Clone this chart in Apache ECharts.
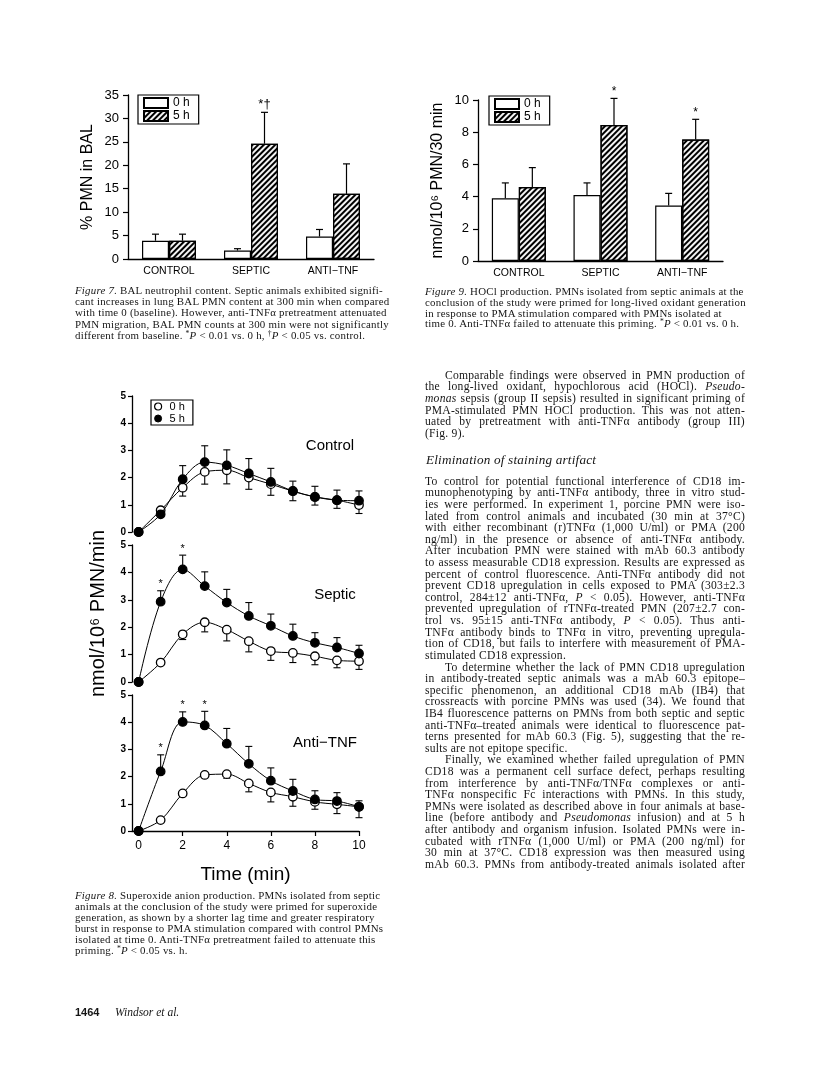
<!DOCTYPE html>
<html><head><meta charset="utf-8">
<script src="https://cdn.jsdelivr.net/npm/echarts@6/dist/echarts.min.js"></script>
<style>
html,body{margin:0;padding:0;background:#fff;}
#page{position:relative;width:816px;height:1078px;overflow:hidden;background:#fff;}
#chart{position:absolute;left:0;top:0;width:816px;height:1078px;}
#text{position:absolute;left:0;top:0;width:816px;height:1078px;pointer-events:none;}
.ln{position:absolute;white-space:nowrap;font-family:"Liberation Serif","Times New Roman",serif;color:#151515;}
.ln sup{font-size:70%;line-height:0;vertical-align:0.35em;}
</style></head><body>
<div id="page"><div id="chart"></div><div id="text"></div></div>
<script>
// ---------- data ----------
const categories = ['CONTROL', 'SEPTIC', 'ANTI\u2212TNF'];
// Figure 7: % PMN in BAL
const bal0 = [3.9, 1.8, 4.8];
const bal0Err = [1.4, 0.4, 1.5];
const bal5 = [3.9, 24.6, 13.9];
const bal5Err = [1.4, 6.7, 6.4];
const bal5Stars = [1];
// Figure 9: HOCl production
const hocl0 = [3.9, 4.1, 3.45];
const hocl0Err = [0.95, 0.75, 0.75];
const hocl5 = [4.6, 8.45, 7.55];
const hocl5Err = [1.2, 1.65, 1.25];
const hocl5Stars = [1, 2];
// Figure 8: superoxide, time (min)
const times = [0, 1, 2, 3, 4, 5, 6, 7, 8, 9, 10];
const timeTicks = [0, 2, 4, 6, 8, 10];
const ctrl0 = [0, 0.80, 1.63, 2.21, 2.27, 2.00, 1.76, 1.50, 1.29, 1.17, 0.99];
const ctrl0Err = [0, 0, 0.31, 0.45, 0.50, 0.43, 0.41, 0.35, 0.30, 0.30, 0.31];
const ctrl5 = [0, 0.65, 1.94, 2.57, 2.45, 2.15, 1.84, 1.51, 1.29, 1.17, 1.15];
const ctrl5Err = [0, 0, 0.50, 0.60, 0.57, 0.55, 0.50, 0.36, 0.39, 0.37, 0.36];
const sep0 = [0, 0.71, 1.74, 2.18, 1.91, 1.49, 1.13, 1.06, 0.94, 0.79, 0.76];
const sep0Err = [0, 0.05, 0.19, 0.35, 0.41, 0.39, 0.34, 0.35, 0.31, 0.27, 0.30];
const sep5 = [0, 2.93, 4.11, 3.50, 2.90, 2.41, 2.05, 1.68, 1.43, 1.26, 1.04];
const sep5Err = [0, 0.40, 0.52, 0.52, 0.48, 0.49, 0.43, 0.43, 0.37, 0.36, 0.30];
const sep5Stars = [1, 2];
const anti0 = [0, 0.40, 1.38, 2.06, 2.09, 1.75, 1.42, 1.26, 1.07, 0.98, 0.89];
const anti0Err = [0, 0, 0, 0, 0.15, 0.31, 0.35, 0.35, 0.27, 0.34, 0.40];
const anti5 = [0, 2.19, 4.01, 3.88, 3.21, 2.47, 1.85, 1.47, 1.16, 1.10, 0.89];
const anti5Err = [0, 0.61, 0.37, 0.52, 0.56, 0.64, 0.47, 0.43, 0.32, 0.31, 0.22];
const anti5Stars = [1, 2, 3];

// ---------- chart ----------
const K = '#000';
const SANS = '"Liberation Sans", Arial, Helvetica, sans-serif';
const hatch = {symbol: 'rect', symbolSize: 1, dashArrayX: [1, 0], dashArrayY: [1.6, 1.2], rotation: -Math.PI / 4, color: '#000'};

function catX(gi) {
  return {type: 'category', gridIndex: gi, data: categories, axisTick: {show: false},
    axisLine: {lineStyle: {color: K, width: 1.3}},
    axisLabel: {color: K, fontFamily: SANS, fontSize: 10.5, margin: 7}};
}
function valY(gi, max, interval, extra) {
  return Object.assign({type: 'value', gridIndex: gi, min: 0, max: max, interval: interval,
    splitLine: {show: false},
    axisLine: {show: true, onZero: false, lineStyle: {color: K, width: 1.3}},
    axisTick: {show: true, length: 5, lineStyle: {color: K, width: 1.2}},
    axisLabel: {color: K, fontFamily: SANS, fontSize: 13, margin: 9}}, extra || {});
}
function f8Y(gi, extra) {
  return valY(gi, 5, 1, Object.assign({
    axisTick: {show: true, length: 4, lineStyle: {color: K, width: 1.2}},
    axisLabel: {color: K, fontFamily: SANS, fontSize: 10, fontWeight: 'bold', margin: 6}}, extra || {}));
}
function bars(name, gi, vals, filled) {
  return {type: 'bar', name: name, xAxisIndex: gi, yAxisIndex: gi, data: vals, barWidth: 27, barGap: '0%',
    silent: true, z: 2,
    itemStyle: filled ? {color: '#f4f4f4', borderColor: K, borderWidth: 1.2, decal: hatch}
                      : {color: '#fff', borderColor: K, borderWidth: 1.2}};
}
function barErr(gi, vals, errs, off) {
  return {type: 'custom', xAxisIndex: gi, yAxisIndex: gi, z: 5, silent: true,
    data: vals.map((v, i) => [i, v, errs[i]]),
    renderItem: (params, api) => {
      const i = api.value(0), v = api.value(1), e = api.value(2);
      const p0 = api.coord([i, v]), p1 = api.coord([i, v + e]);
      const x = p0[0] + off;
      return {type: 'group', children: [
        {type: 'line', shape: {x1: x, y1: p0[1], x2: x, y2: p1[1]}, style: {stroke: K, lineWidth: 1.2}},
        {type: 'line', shape: {x1: x - 3.5, y1: p1[1], x2: x + 3.5, y2: p1[1]}, style: {stroke: K, lineWidth: 1.2}}
      ]};
    }};
}
function stars(xi, yi, pts, txt, off, fs) {
  return {type: 'custom', xAxisIndex: xi, yAxisIndex: yi, z: 6, silent: true,
    data: pts,
    renderItem: (params, api) => {
      const p = api.coord([api.value(0), api.value(1)]);
      return {type: 'text', style: {text: txt, x: p[0] + off, y: p[1] - 1, align: 'center', verticalAlign: 'bottom',
        fontFamily: SANS, fontSize: fs, fill: K}};
    }};
}
function line(name, gi, vals, filled) {
  return {type: 'line', name: name, xAxisIndex: gi, yAxisIndex: gi, data: times.map((t, i) => [t, vals[i]]),
    smooth: 0.35, symbol: 'circle', symbolSize: 8.5, silent: true, z: filled ? 4 : 3,
    lineStyle: {color: K, width: 1},
    itemStyle: {color: filled ? K : '#fff', borderColor: K, borderWidth: 1.3}};
}
function lineErr(gi, vals, errs, dir) {
  return {type: 'custom', xAxisIndex: gi, yAxisIndex: gi, z: 2, silent: true,
    data: times.map((t, i) => [t, vals[i], errs[i]]).filter(d => d[2] > 0),
    renderItem: (params, api) => {
      const t = api.value(0), v = api.value(1), e = api.value(2);
      const p0 = api.coord([t, v]), p1 = api.coord([t, v + dir * e]);
      return {type: 'group', children: [
        {type: 'line', shape: {x1: p0[0], y1: p0[1], x2: p1[0], y2: p1[1]}, style: {stroke: K, lineWidth: 1.1}},
        {type: 'line', shape: {x1: p1[0] - 3.5, y1: p1[1], x2: p1[0] + 3.5, y2: p1[1]}, style: {stroke: K, lineWidth: 1.1}}
      ]};
    }};
}
const barLegend = {orient: 'vertical', data: [{name: '0 h', icon: 'rect'}, {name: '5 h', icon: 'rect'}],
  borderColor: K, borderWidth: 1.2, padding: [2, 9, 2, 5], itemWidth: 24, itemHeight: 10, itemGap: 1,
  textStyle: {fontFamily: SANS, fontSize: 12, color: K}, selectedMode: false};

const option = {
  animation: false,
  backgroundColor: 'transparent',
  grid: [
    {left: 128, top: 95, width: 246, height: 164},
    {left: 478, top: 100, width: 245, height: 161},
    {left: 132, top: 396, width: 227, height: 136},
    {left: 132, top: 545, width: 227, height: 137},
    {left: 132, top: 695, width: 227, height: 136}
  ],
  xAxis: [
    catX(0), catX(1),
    {type: 'value', gridIndex: 2, min: -0.3, max: 10, show: false},
    {type: 'value', gridIndex: 3, min: -0.3, max: 10, show: false},
    {type: 'value', gridIndex: 4, min: -0.3, max: 10, splitLine: {show: false},
      axisLine: {show: true, lineStyle: {color: K, width: 1.3}},
      axisTick: {show: true, length: 5, customValues: timeTicks, lineStyle: {color: K, width: 1.2}},
      axisLabel: {customValues: timeTicks, color: K, fontFamily: SANS, fontSize: 12, margin: 9},
      name: 'Time (min)', nameLocation: 'middle', nameGap: 34,
      nameTextStyle: {fontFamily: SANS, fontSize: 19, color: K}}
  ],
  yAxis: [
    valY(0, 35, 5, {name: '% PMN in BAL', nameLocation: 'middle', nameGap: 32,
      nameTextStyle: {fontFamily: SANS, fontSize: 16, color: K}}),
    valY(1, 10, 2, {name: 'nmol/10\u2076 PMN/30 min', nameLocation: 'middle', nameGap: 32,
      nameTextStyle: {fontFamily: SANS, fontSize: 16, color: K}}),
    f8Y(2),
    f8Y(3, {name: 'nmol/10\u2076 PMN/min', nameLocation: 'middle', nameGap: 24,
      nameTextStyle: {fontFamily: SANS, fontSize: 20, color: K}}),
    f8Y(4)
  ],
  legend: [
    Object.assign({left: 138, top: 95}, barLegend),
    Object.assign({left: 489, top: 96}, barLegend),
    {left: 151, top: 400, orient: 'vertical',
      data: [{name: '0 h ', icon: 'circle', itemStyle: {color: '#fff', borderColor: K, borderWidth: 1.2}},
             {name: '5 h ', icon: 'circle', itemStyle: {color: K, borderColor: K, borderWidth: 1}}],
      formatter: n => n.trim(),
      borderColor: K, borderWidth: 1.2, padding: [1, 8, 1, 3], itemWidth: 7, itemHeight: 7, itemGap: 1,
      textStyle: {fontFamily: SANS, fontSize: 11, color: K, padding: [0, 0, 0, 3]}, selectedMode: false}
  ],
  graphic: [
    {type: 'text', style: {text: 'Control', x: 330, y: 446, align: 'center', verticalAlign: 'middle', fontFamily: SANS, fontSize: 15, fill: K}},
    {type: 'text', style: {text: 'Septic', x: 335, y: 595, align: 'center', verticalAlign: 'middle', fontFamily: SANS, fontSize: 15, fill: K}},
    {type: 'text', style: {text: 'Anti\u2212TNF', x: 325, y: 743, align: 'center', verticalAlign: 'middle', fontFamily: SANS, fontSize: 15, fill: K}}
  ],
  series: [
    bars('0 h', 0, bal0, false), bars('5 h', 0, bal5, true),
    barErr(0, bal0, bal0Err, -13.5), barErr(0, bal5, bal5Err, 13.5),
    stars(0, 0, bal5Stars.map(i => [i, bal5[i] + bal5Err[i]]), '*\u2020', 13.5, 13),
    bars('0 h', 1, hocl0, false), bars('5 h', 1, hocl5, true),
    barErr(1, hocl0, hocl0Err, -13.5), barErr(1, hocl5, hocl5Err, 13.5),
    stars(1, 1, hocl5Stars.map(i => [i, hocl5[i] + hocl5Err[i]]), '*', 13.5, 12),
    line('0 h ', 2, ctrl0, false), line('5 h ', 2, ctrl5, true),
    lineErr(2, ctrl0, ctrl0Err, -1), lineErr(2, ctrl5, ctrl5Err, 1),
    line('0 h ', 3, sep0, false), line('5 h ', 3, sep5, true),
    lineErr(3, sep0, sep0Err, -1), lineErr(3, sep5, sep5Err, 1),
    stars(3, 3, sep5Stars.map(i => [times[i], sep5[i] + sep5Err[i]]), '*', 0, 11),
    line('0 h ', 4, anti0, false), line('5 h ', 4, anti5, true),
    lineErr(4, anti0, anti0Err, -1), lineErr(4, anti5, anti5Err, 1),
    stars(4, 4, anti5Stars.map(i => [times[i], anti5[i] + anti5Err[i]]), '*', 0, 11)
  ]
};
const chart = echarts.init(document.getElementById('chart'), null, {renderer: 'canvas'});
chart.setOption(option);

// ---------- page text ----------
const TX = document.getElementById('text');
function put(x, y, html, fs, opts) {
  opts = opts || {};
  const d = document.createElement('div');
  d.className = 'ln';
  d.style.left = x + 'px';
  d.style.top = (y - fs * 0.62) + 'px';
  d.style.fontSize = fs + 'px';
  d.style.lineHeight = (fs * 1.2) + 'px';
  if (opts.ls) d.style.letterSpacing = opts.ls + 'px';
  if (opts.font) d.style.fontFamily = opts.font;
  if (opts.weight) d.style.fontWeight = opts.weight;
  if (opts.italic) d.style.fontStyle = 'italic';
  d.innerHTML = html;
  TX.appendChild(d);
  if (opts.width) {
    const nat = d.getBoundingClientRect().width;
    const n = (d.textContent.match(/ /g) || []).length;
    if (n) d.style.wordSpacing = ((opts.width - nat) / n) + 'px';
  }
  return d;
}
function block(x, y0, pitch, fs, ls, width, arr) {
  arr.forEach((L, k) => {
    const flag = L[0], html = L[1];
    const ind = flag.indexOf('i') >= 0 ? 20 : 0;
    const just = flag.indexOf('l') < 0 && width;
    const o = {ls: ls};
    if (just) o.width = width - ind;
    put(x + ind, y0 + k * pitch, html, fs, o);
  });
}
const a = '&alpha;';
// captions (ragged right)
const CF = 10.9, CLS = 0.22;
block(75, 291, 11.1, CF, CLS, 0, [
  ['l', '<i>Figure 7.</i> BAL neutrophil content. Septic animals exhibited signifi-'],
  ['l', 'cant increases in lung BAL PMN content at 300 min when compared'],
  ['l', 'with time 0 (baseline). However, anti-TNF' + a + ' pretreatment attenuated'],
  ['l', 'PMN migration, BAL PMN counts at 300 min were not significantly'],
  ['l', 'different from baseline. <sup>*</sup><i>P</i> &lt; 0.01 vs. 0 h, <sup>&dagger;</sup><i>P</i> &lt; 0.05 vs. control.']
]);
block(425, 291.5, 10.9, CF, CLS, 0, [
  ['l', '<i>Figure 9.</i> HOCl production. PMNs isolated from septic animals at the'],
  ['l', 'conclusion of the study were primed for long-lived oxidant generation'],
  ['l', 'in response to PMA stimulation compared with PMNs isolated at'],
  ['l', 'time 0. Anti-TNF' + a + ' failed to attenuate this priming. <sup>*</sup><i>P</i> &lt; 0.01 vs. 0 h.']
]);
block(75, 896, 10.9, CF, CLS, 0, [
  ['l', '<i>Figure 8.</i> Superoxide anion production. PMNs isolated from septic'],
  ['l', 'animals at the conclusion of the study were primed for superoxide'],
  ['l', 'generation, as shown by a shorter lag time and greater respiratory'],
  ['l', 'burst in response to PMA stimulation compared with control PMNs'],
  ['l', 'isolated at time 0. Anti-TNF' + a + ' pretreatment failed to attenuate this'],
  ['l', 'priming. <sup>*</sup><i>P</i> &lt; 0.05 vs. h.']
]);
// body text (justified)
const P = 11.606, BF = 11.6, BLS = 0.25;
block(425, 376, P, BF, BLS, 320, [
  ['i', 'Comparable findings were observed in PMN production of'],
  ['', 'the long-lived oxidant, hypochlorous acid (HOCl). <i>Pseudo-</i>'],
  ['', '<i>monas</i> sepsis (group II sepsis) resulted in significant priming of'],
  ['', 'PMA-stimulated PMN HOCl production. This was not atten-'],
  ['', 'uated by pretreatment with anti-TNF' + a + ' antibody (group III)'],
  ['l', '(Fig. 9).']
]);
put(426, 460, 'Elimination of staining artifact', 13.2, {italic: true, ls: 0.2});
block(425, 482, P, BF, BLS, 320, [
  ['', 'To control for potential functional interference of CD18 im-'],
  ['', 'munophenotyping by anti-TNF' + a + ' antibody, three in vitro stud-'],
  ['', 'ies were performed. In experiment 1, porcine PMN were iso-'],
  ['', 'lated from control animals and incubated (30 min at 37&deg;C)'],
  ['', 'with either recombinant (r)TNF' + a + ' (1,000 U/ml) or PMA (200'],
  ['', 'ng/ml) in the presence or absence of anti-TNF' + a + ' antibody.'],
  ['', 'After incubation PMN were stained with mAb 60.3 antibody'],
  ['', 'to assess measurable CD18 expression. Results are expressed as'],
  ['', 'percent of control fluorescence. Anti-TNF' + a + ' antibody did not'],
  ['', 'prevent CD18 upregulation in cells exposed to PMA (303&plusmn;2.3'],
  ['', 'control, 284&plusmn;12 anti-TNF' + a + ', <i>P</i> &lt; 0.05). However, anti-TNF' + a],
  ['', 'prevented upregulation of rTNF' + a + '-treated PMN (207&plusmn;2.7 con-'],
  ['', 'trol vs. 95&plusmn;15 anti-TNF' + a + ' antibody, <i>P</i> &lt; 0.05). Thus anti-'],
  ['', 'TNF' + a + ' antibody binds to TNF' + a + ' in vitro, preventing upregula-'],
  ['', 'tion of CD18, but fails to interfere with measurement of PMA-'],
  ['l', 'stimulated CD18 expression.'],
  ['i', 'To determine whether the lack of PMN CD18 upregulation'],
  ['', 'in antibody-treated septic animals was a mAb 60.3 epitope&ndash;'],
  ['', 'specific phenomenon, an additional CD18 mAb (IB4) that'],
  ['', 'crossreacts with porcine PMNs was used (34). We found that'],
  ['', 'IB4 fluorescence patterns on PMNs from both septic and septic'],
  ['', 'anti-TNF' + a + '&ndash;treated animals were identical to fluorescence pat-'],
  ['', 'terns presented for mAb 60.3 (Fig. 5), suggesting that the re-'],
  ['l', 'sults are not epitope specific.'],
  ['i', 'Finally, we examined whether failed upregulation of PMN'],
  ['', 'CD18 was a permanent cell surface defect, perhaps resulting'],
  ['', 'from interference by anti-TNF' + a + '/TNF' + a + ' complexes or anti-'],
  ['', 'TNF' + a + ' nonspecific Fc interactions with PMNs. In this study,'],
  ['', 'PMNs were isolated as described above in four animals at base-'],
  ['', 'line (before antibody and <i>Pseudomonas</i> infusion) and at 5 h'],
  ['', 'after antibody and organism infusion. Isolated PMNs were in-'],
  ['', 'cubated with rTNF' + a + ' (1,000 U/ml) or PMA (200 ng/ml) for'],
  ['', '30 min at 37&deg;C. CD18 expression was then measured using'],
  ['', 'mAb 60.3. PMNs from antibody-treated animals isolated after']
]);
// footer
put(75, 1013, '1464', 11, {font: SANS, weight: 'bold'});
put(115, 1013, 'Windsor et al.', 11.5, {italic: true});
</script>
</body></html>
